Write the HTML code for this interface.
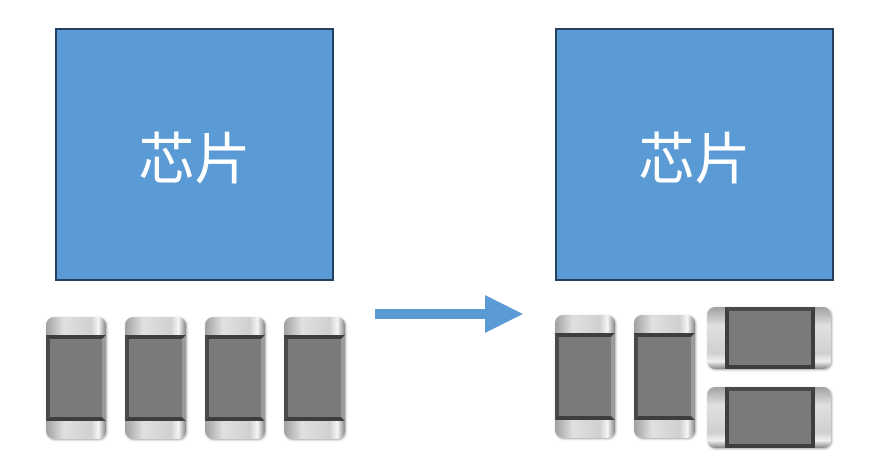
<!DOCTYPE html>
<html><head><meta charset="utf-8"><style>
body{margin:0;width:873px;height:469px;background:#fff;position:relative;overflow:hidden;font-family:"Liberation Sans","Noto Sans CJK SC",sans-serif}
.box{position:absolute;top:28px;width:279px;height:253px;background:#5b9bd5;border:2px solid #23405f;color:#fff;font-size:56px;display:flex;align-items:center;justify-content:center;box-sizing:border-box;padding-top:2px}
.v,.h{position:absolute;border-radius:8px;overflow:hidden;box-shadow:1px 1px 2px rgba(0,0,0,.35)}
.v{background:linear-gradient(90deg,#a0a0a0,#e0e0e0 30%,#d0d0d0 75%,#f5f5f5 88%,#8a8a8a)}
.v .b{position:absolute;left:0;right:0;top:18px;bottom:18px;background:#7a7a7a;border-top:4px solid #3e3e3e;border-bottom:4px solid #3e3e3e;border-left:4px solid #4a4a4a;border-right:4px solid #9a9a9a;box-sizing:border-box}
.h{background:linear-gradient(180deg,#a0a0a0,#e0e0e0 30%,#d0d0d0 75%,#f0f0f0 88%,#8a8a8a)}
.h .b{position:absolute;top:0;bottom:0;left:18px;right:16px;background:#7a7a7a;border-left:4px solid #3e3e3e;border-right:4px solid #3e3e3e;border-top:4px solid #4a4a4a;border-bottom:4px solid #3e3e3e;box-sizing:border-box}
</style></head><body>
<div class="box" style="left:55px">芯片</div>
<div class="box" style="left:555px">芯片</div>
<div class="v" style="left:46px;top:317px;width:60px;height:122px"><div class="b"></div></div>
<div class="v" style="left:125px;top:317px;width:61px;height:122px"><div class="b"></div></div>
<div class="v" style="left:205px;top:317px;width:60px;height:122px"><div class="b"></div></div>
<div class="v" style="left:284px;top:317px;width:61px;height:122px"><div class="b"></div></div>
<div class="v" style="left:555px;top:315px;width:60px;height:123px"><div class="b"></div></div>
<div class="v" style="left:634px;top:315px;width:61px;height:123px"><div class="b"></div></div>
<div class="h" style="left:707px;top:307px;width:124px;height:62px"><div class="b"></div></div>
<div class="h" style="left:707px;top:387px;width:124px;height:61px"><div class="b"></div></div>
<svg style="position:absolute;left:0;top:0" width="873" height="469">
<rect x="375" y="309" width="112" height="10" fill="#5b9bd5"/>
<polygon points="485,295 523,314 485,333" fill="#5b9bd5"/>
</svg>
</body></html>
